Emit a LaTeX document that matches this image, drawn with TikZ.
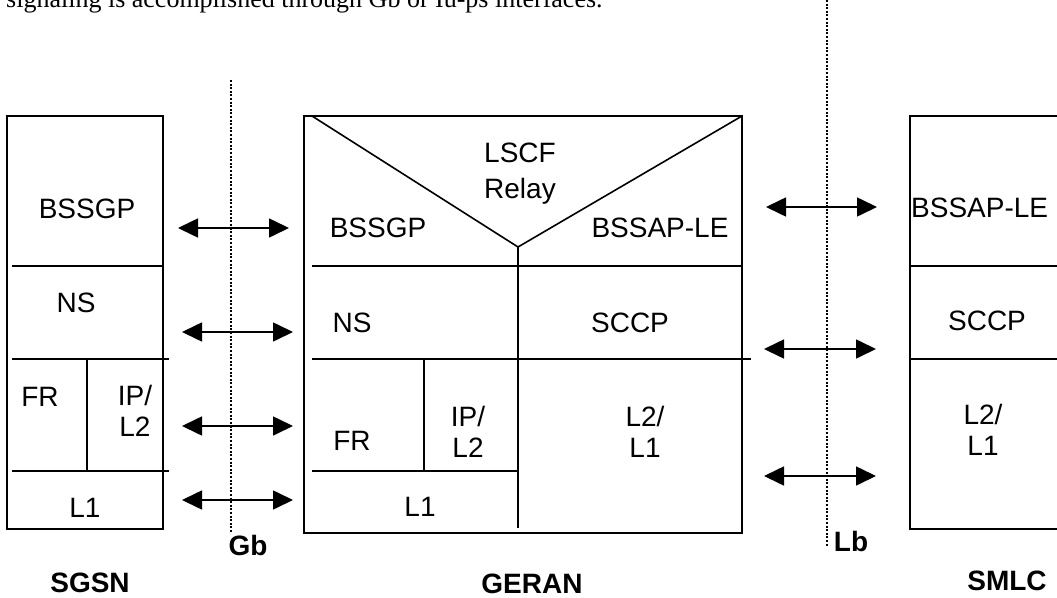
\documentclass[tikz,border=0pt]{standalone}
\usepackage{fontspec}
\setmainfont{Liberation Sans}
\newfontfamily\capserif{Liberation Serif}
\usetikzlibrary{arrows.meta}
\tikzset{
  box/.style={draw, line width=2pt, inner sep=0pt},
  inner/.style={line width=1.6pt},
  iface/.style={line width=1.6pt, dash pattern=on 2pt off 1.6pt},
  lbl/.style={inner sep=0pt, anchor=base, font=\fontsize{28}{31}\selectfont},
  lbltwo/.style={inner sep=0pt, anchor=center, align=center, font=\fontsize{28}{31}\selectfont},
  title/.style={inner sep=0pt, anchor=base, font=\bfseries\fontsize{28}{31}\selectfont},
  dblarrow/.style={line width=1.6pt, {Triangle[length=20pt,width=19pt]}-{Triangle[length=20pt,width=19pt]}},
}
\begin{document}
\begin{tikzpicture}[x=1pt,y=-1pt]
\useasboundingbox (0,0) rectangle (1057,597);
\clip (0,0) rectangle (1057,597);
\fill[white] (0,0) rectangle (1057,597);

% caption fragment at the top
\node[inner sep=0pt, anchor=base west, font=\capserif\fontsize{26}{30}\selectfont] (cap) at (6,7)
  {signaling is accomplished through Gb or Iu-ps interfaces.};

% interface lines
\coordinate (gbtop) at (231,80);
\coordinate (gbbot) at (231,533);
\coordinate (lbtop) at (827,0);
\coordinate (lbbot) at (827,546);
\draw[iface] (gbtop) -- (gbbot);
\draw[iface] (lbtop) -- (lbbot);

% ---------------- SGSN ----------------
\node[box, minimum width=156pt, minimum height=413pt] (sgsn) at (85,322.5) {};
\draw[inner] (12,266) -- (163,266);
\draw[inner] (12,359) -- (169,359);
\draw[inner] (12,471) -- (169,471);
\draw[inner] (87,359) -- (87,471);
\node[lbl] (s-bssgp) at (87,218) {BSSGP};
\node[lbl] (s-ns) at (76,312) {NS};
\node[lbl] (s-fr) at (40,406) {FR};
\node[lbltwo] (s-ip) at (135,411) {IP/\\L2};
\node[lbl] (s-l1) at (85,517) {L1};
\node[title] (s-name) at (90,592) {SGSN};
\node[title] (gb) at (248,555) {Gb};

% ---------------- GERAN ----------------
\node[box, minimum width=438pt, minimum height=417pt] (geran) at (523,324.5) {};
\coordinate (vl) at (312,116);
\coordinate (vm) at (518,247);
\coordinate (vr) at (742,116);
\draw[inner] (vl) -- (vm) -- (vr);
\draw[inner] (vm) -- (518,528);
\draw[inner] (312,266) -- (742,266);
\draw[inner] (312,359) -- (751,359);
\draw[inner] (312,471) -- (518,471);
\draw[inner] (424,359) -- (424,471);
\node[inner sep=0pt, anchor=center, align=center, font=\fontsize{28}{36}\selectfont] (g-lscf) at (520,174) {LSCF\\Relay};
\node[lbl] (g-bssgp) at (378,237) {BSSGP};
\node[lbl] (g-bssap) at (660,237) {BSSAP-LE};
\node[lbl] (g-ns) at (352,332) {NS};
\node[lbl] (g-sccp) at (630,332) {SCCP};
\node[lbl] (g-fr) at (352,450) {FR};
\node[lbltwo] (g-ip) at (468,432) {IP/\\L2};
\node[lbltwo] (g-l2) at (645,432) {L2/\\L1};
\node[lbl] (g-l1) at (420,516) {L1};
\node[title] (g-name) at (532,593) {GERAN};

% ---------------- SMLC ----------------
\node[box, minimum width=160pt, minimum height=413pt] (smlc) at (990,322.5) {};
\draw[inner] (910,266) -- (1070,266);
\draw[inner] (910,359) -- (1070,359);
\node[lbl, anchor=base west] (m-bssap) at (911,217) {BSSAP-LE};
\node[lbl] (m-sccp) at (987,330) {SCCP};
\node[lbltwo] (m-l2) at (983,430) {L2/\\L1};
\node[title] (m-name) at (1007,590) {SMLC};
\node[title] (lb) at (851,551) {Lb};

% ---------------- arrows ----------------
\coordinate (a1l) at (178,228); \coordinate (a1r) at (289,228);
\coordinate (a2l) at (182,332); \coordinate (a2r) at (293,332);
\coordinate (a3l) at (182,426); \coordinate (a3r) at (293,426);
\coordinate (a4l) at (182,500); \coordinate (a4r) at (293,500);
\coordinate (a5l) at (766,207); \coordinate (a5r) at (877,207);
\coordinate (a6l) at (764,349); \coordinate (a6r) at (876,349);
\coordinate (a7l) at (764,476); \coordinate (a7r) at (876,476);
\draw[dblarrow] (a1l) -- (a1r);
\draw[dblarrow] (a2l) -- (a2r);
\draw[dblarrow] (a3l) -- (a3r);
\draw[dblarrow] (a4l) -- (a4r);
\draw[dblarrow] (a5l) -- (a5r);
\draw[dblarrow] (a6l) -- (a6r);
\draw[dblarrow] (a7l) -- (a7r);
\end{tikzpicture}
\end{document}
